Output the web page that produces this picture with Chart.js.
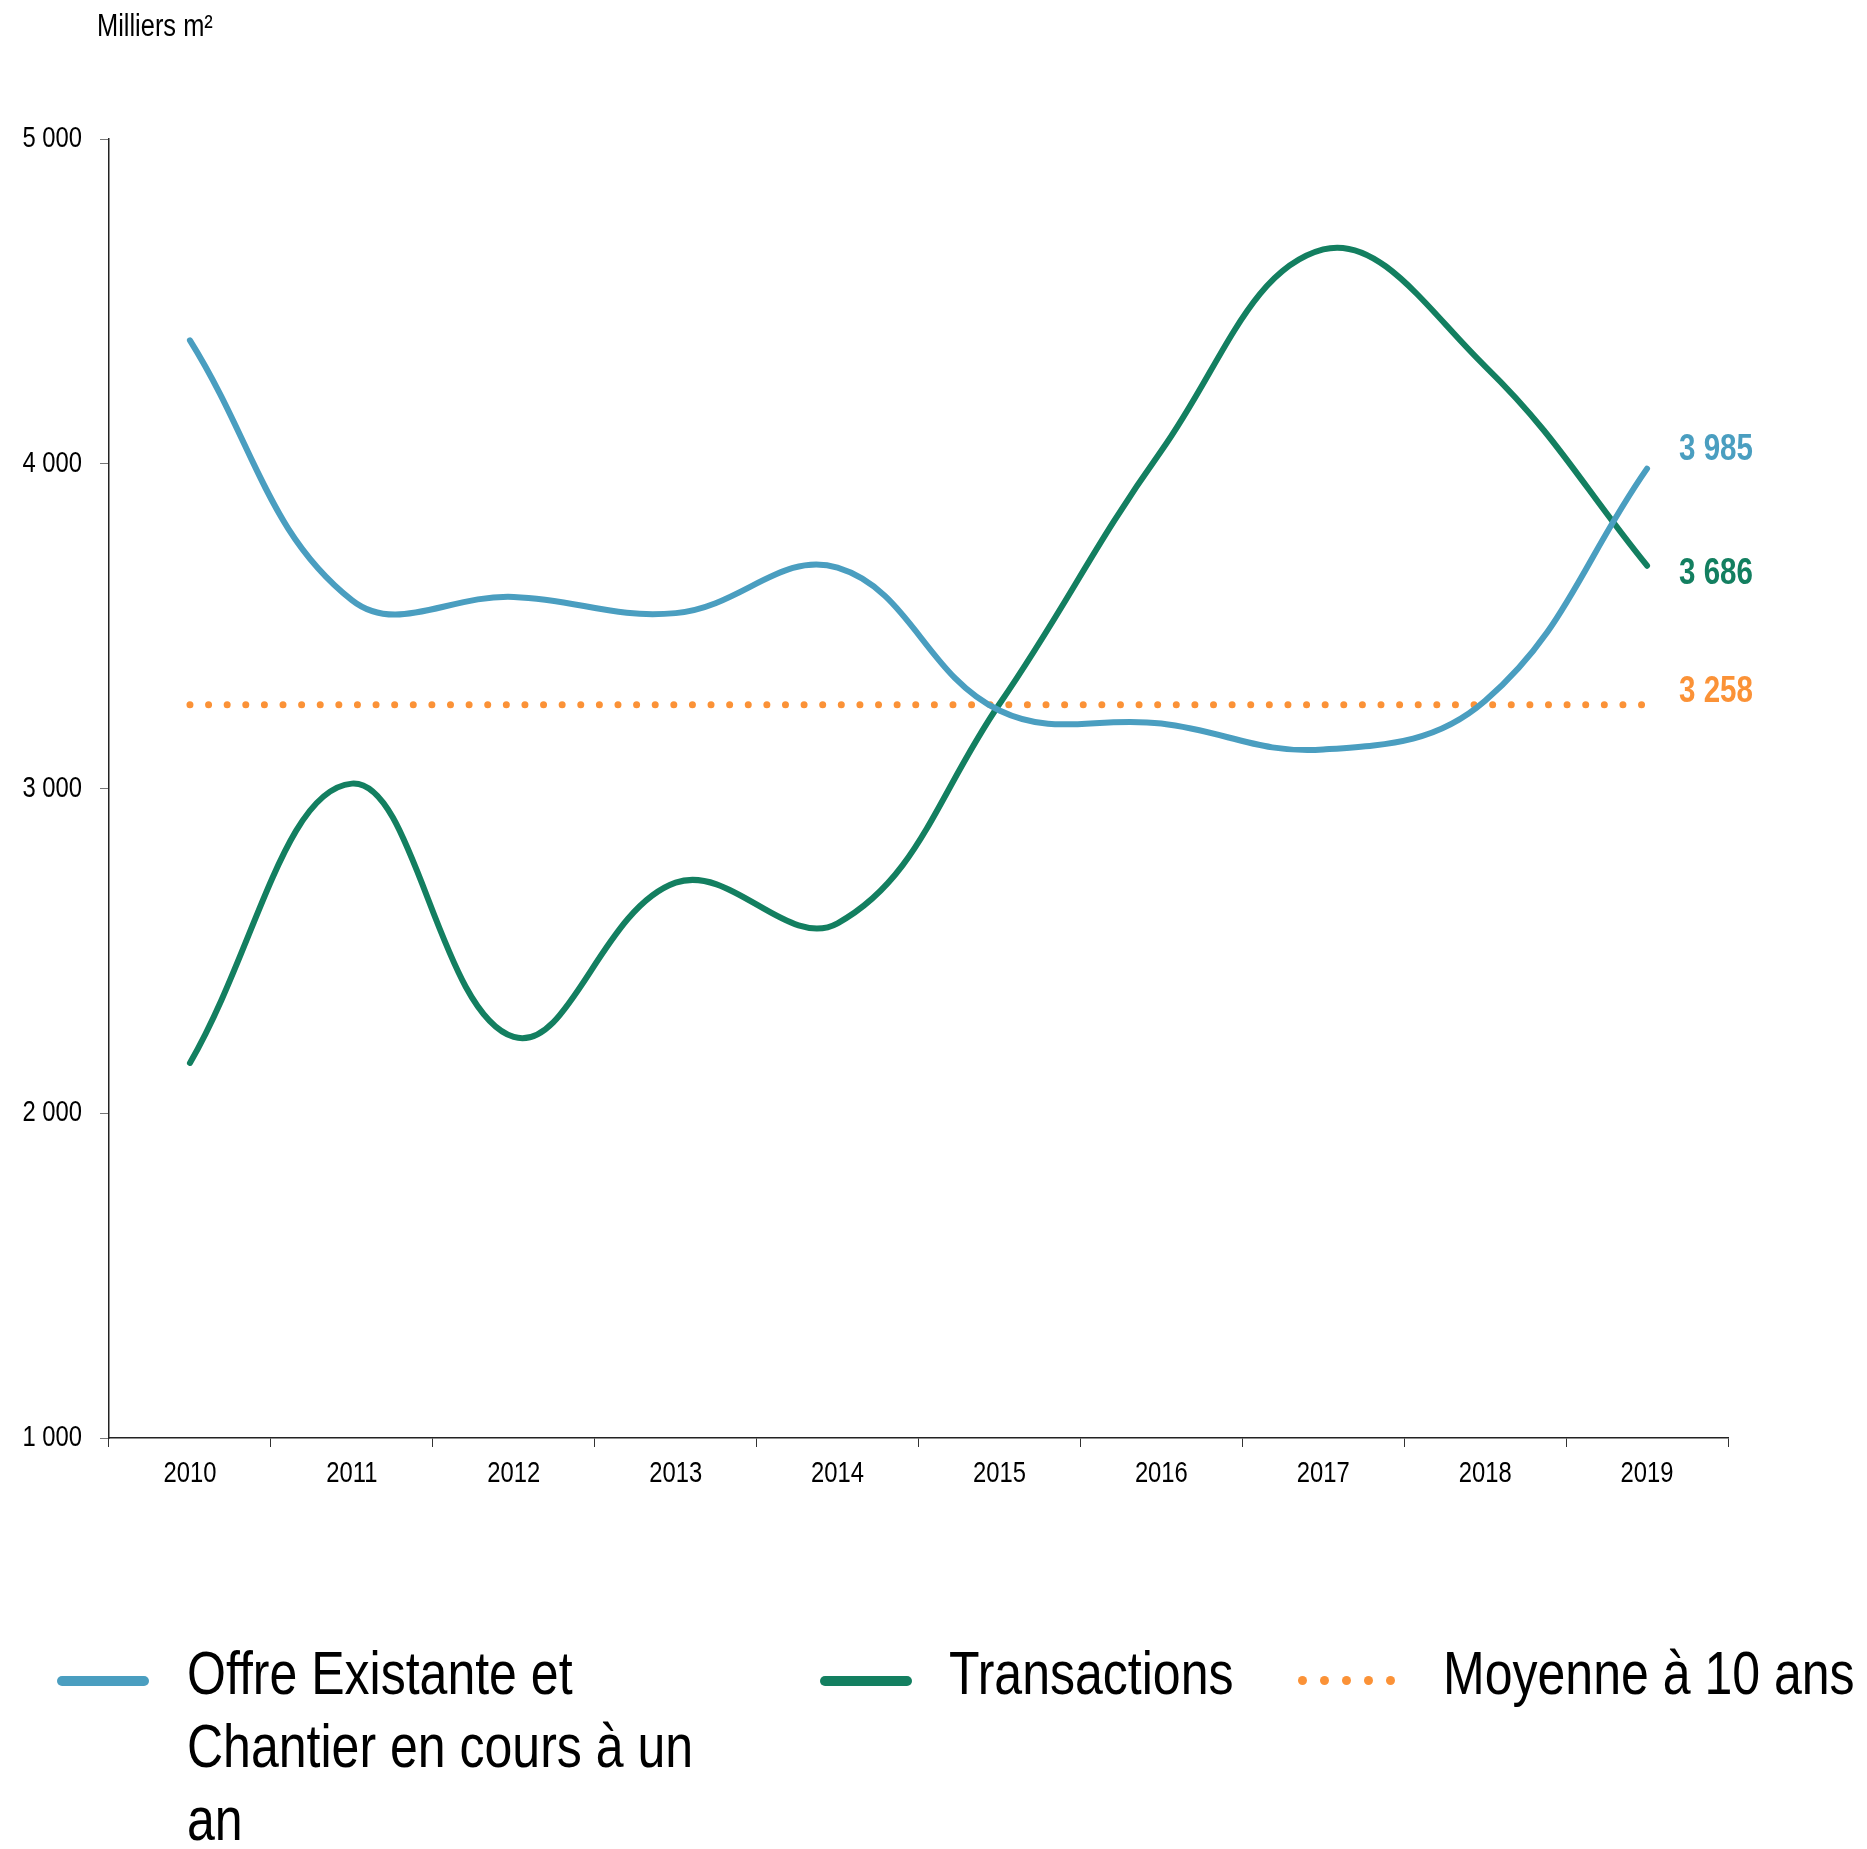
<!DOCTYPE html>
<html>
<head>
<meta charset="utf-8">
<script src="https://cdn.jsdelivr.net/npm/chart.js@4"></script>
<style>
    body { margin: 0; background: #fff; }
    #wrap { position: relative; width: 1867px; height: 1849px; }
    #chart { position: absolute; left: 0; top: 0; }
    .legend-item { position: absolute; font-family: 'Liberation Sans', Arial, sans-serif;
        font-size: 61px; line-height: 73px; color: #000; white-space: nowrap;
        transform: scaleX(0.82); transform-origin: left top; }
    .legend-line { position: absolute; height: 10px; border-radius: 5px; }
    .legend-dot { position: absolute; width: 9px; height: 9px; border-radius: 50%; }
</style>
</head>
<body>
<div id="wrap">
    <canvas id="chart" width="1867" height="1849"></canvas>
</div>
<script>
// Years on the x axis
const years = ['2010', '2011', '2012', '2013', '2014', '2015', '2016', '2017', '2018', '2019'];

// Series values (milliers m²)
const offreValues = [4380, 3580, 3590, 3540, 3680, 3240, 3200, 3120, 3270, 3985];
const transactionsValues = [2155, 3015, 2235, 2710, 2585, 3260, 4040, 4660, 4300, 3686];
const moyenneValues = [3258, 3258, 3258, 3258, 3258, 3258, 3258, 3258, 3258, 3258];

// Series names
const seriesNames = ['Offre Existante et<br>Chantier en cours à un<br>an', 'Transactions', 'Moyenne à 10 ans'];

// Y axis ticks
const yMin = 1000;
const yMax = 5000;
const yStep = 1000;

const colors = {
    offre: '#4a9ec0',
    transactions: '#137f60',
    moyenne: '#fb9237'
};

const baseFont = "'Liberation Sans', Arial, sans-serif";
const narrow = 0.82;   // squeeze Liberation Sans to look like Arial Narrow

function formatNumber(v) {
    return String(Math.round(v)).replace(/\B(?=(\d{3})+(?!\d))/g, ' ');
}

// draw condensed text at x,y
function narrowText(ctx, text, x, y) {
    ctx.save();
    ctx.translate(x, y);
    ctx.scale(narrow, 1);
    ctx.fillText(text, 0, 0);
    ctx.restore();
}

// Axis tick labels drawn condensed, positioned from the chart scales
const tickLabels = {
    id: 'tickLabels',
    afterDraw(chart) {
        const ctx = chart.ctx;
        const xs = chart.scales.x;
        const ys = chart.scales.y;
        ctx.save();
        ctx.font = '29px ' + baseFont;
        ctx.fillStyle = '#000';
        ctx.textBaseline = 'middle';
        ctx.textAlign = 'center';
        xs.ticks.forEach((t, i) => {
            narrowText(ctx, years[i], xs.getPixelForTick(i), chart.chartArea.bottom + 36);
        });
        ctx.textAlign = 'right';
        ys.ticks.forEach((t, i) => {
            narrowText(ctx, formatNumber(t.value), ys.right - 27, ys.getPixelForTick(i));
        });
        ctx.restore();
    }
};

// Value labels to the right of the last point of each series
const endLabels = {
    id: 'endLabels',
    afterDatasetsDraw(chart) {
        const ctx = chart.ctx;
        const offsets = [-19, 8, -13];
        ctx.save();
        ctx.font = 'bold 36px ' + baseFont;
        ctx.textAlign = 'left';
        ctx.textBaseline = 'middle';
        chart.data.datasets.forEach((ds, i) => {
            const meta = chart.getDatasetMeta(i);
            const last = meta.data[meta.data.length - 1];
            ctx.fillStyle = ds.borderColor;
            narrowText(ctx, formatNumber(ds.data[ds.data.length - 1]), last.x + 32, last.y + offsets[i]);
        });
        ctx.restore();
    }
};

// Unit text above the y axis
const unitLabel = {
    id: 'unitLabel',
    afterDraw(chart) {
        const ctx = chart.ctx;
        ctx.save();
        ctx.font = '31px ' + baseFont;
        ctx.fillStyle = '#000';
        ctx.textBaseline = 'alphabetic';
        narrowText(ctx, 'Milliers m²', 97, 36);
        ctx.restore();
    }
};

const ctx = document.getElementById('chart').getContext('2d');
const chart = new Chart(ctx, {
    type: 'line',
    data: {
        labels: years,
        datasets: [{
            label: 'Offre Existante et Chantier en cours à un an',
            data: offreValues,
            borderColor: colors.offre,
            borderWidth: 6,
            tension: 0.4,
            pointRadius: 0,
            borderCapStyle: 'round'
        }, {
            label: 'Transactions',
            data: transactionsValues,
            borderColor: colors.transactions,
            borderWidth: 6,
            tension: 0.4,
            pointRadius: 0,
            borderCapStyle: 'round'
        }, {
            label: 'Moyenne à 10 ans',
            data: moyenneValues,
            borderColor: colors.moyenne,
            borderWidth: 7,
            borderDash: [0.01, 18.6],
            borderCapStyle: 'round',
            pointRadius: 0
        }]
    },
    options: {
        responsive: false,
        animation: false,
        layout: { padding: { left: 0, top: 139, right: 139, bottom: 0 } },
        plugins: {
            legend: { display: false },
            tooltip: { enabled: false }
        },
        scales: {
            x: {
                offset: true,
                grid: { offset: true, drawOnChartArea: false, tickLength: 9, color: '#333' },
                border: { color: '#222', width: 1.5 },
                ticks: { color: 'rgba(0,0,0,0)', font: { size: 24 }, maxRotation: 0 },
                afterFit(scale) { scale.height = 411; }
            },
            y: {
                min: yMin,
                max: yMax,
                grid: { drawOnChartArea: false, tickLength: 9, color: '#777' },
                border: { color: '#222', width: 1.5 },
                ticks: {
                    stepSize: yStep,
                    color: 'rgba(0,0,0,0)',
                    font: { size: 24 },
                    callback: v => formatNumber(v)
                },
                afterFit(scale) { scale.width = 109; }
            }
        }
    },
    plugins: [tickLabels, endLabels, unitLabel]
});

// HTML legend below the chart (wraps the long first label)
const wrap = document.getElementById('wrap');
const legendItems = [
    { color: colors.offre, lineX: 57, textX: 187, dotted: false },
    { color: colors.transactions, lineX: 820, textX: 949, dotted: false },
    { color: colors.moyenne, lineX: 1298, textX: 1443, dotted: true }
];
legendItems.forEach((item, i) => {
    if (item.dotted) {
        for (let k = 0; k < 5; k++) {
            const d = document.createElement('div');
            d.className = 'legend-dot';
            d.style.left = (item.lineX + k * 22) + 'px';
            d.style.top = '1676px';
            d.style.background = item.color;
            wrap.appendChild(d);
        }
    } else {
        const l = document.createElement('div');
        l.className = 'legend-line';
        l.style.left = item.lineX + 'px';
        l.style.top = '1676px';
        l.style.width = '92px';
        l.style.background = item.color;
        wrap.appendChild(l);
    }
    const t = document.createElement('div');
    t.className = 'legend-item';
    t.style.left = item.textX + 'px';
    t.style.top = '1637px';
    t.innerHTML = seriesNames[i];
    wrap.appendChild(t);
});
</script>
</body>
</html>
